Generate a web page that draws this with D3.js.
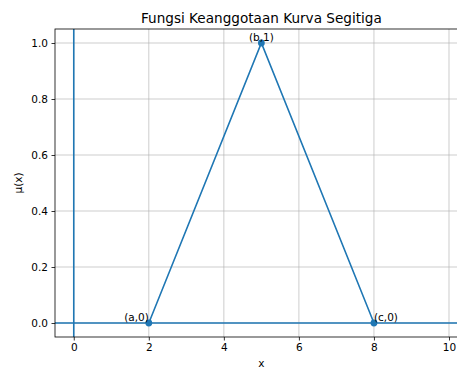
<!DOCTYPE html>
<html>
<head>
<meta charset="utf-8">
<script src="https://cdn.jsdelivr.net/npm/d3@7"></script>
<style>
  html, body { margin: 0; padding: 0; background: #fff; }
  svg { display: block; font-family: "DejaVu Sans", sans-serif; }
</style>
</head>
<body>
<svg id="chart" width="457" height="370"></svg>
<script>
// Triangular membership function: vertices a, b, c
const pointX = [2, 5, 8];
const pointY = [0, 1, 0];
const pointLabels = ["(a,0)", "(b,1)", "(c,0)"];
const labelAnchors = ["end", "middle", "start"];
const xTicks = [0, 2, 4, 6, 8, 10];
const yTicks = [0.0, 0.2, 0.4, 0.6, 0.8, 1.0];
const xDomain = [-0.5, 10.5];
const yDomain = [-0.05, 1.05];

const blue = "#1f77b4";
const svg = d3.select("#chart");
const margin = { left: 55, top: 29, bottom: 33 };
const W = 457, H = 370;
const plotRight = 467.75;
const fs = 10.5;

const x = d3.scaleLinear().domain(xDomain).range([margin.left, plotRight]);
const y = d3.scaleLinear().domain(yDomain).range([H - margin.bottom, margin.top]);

svg.append("rect").attr("width", W).attr("height", H).attr("fill", "#fff");

svg.append("defs").append("clipPath").attr("id", "plotclip")
  .append("rect")
  .attr("x", margin.left).attr("y", margin.top)
  .attr("width", plotRight - margin.left).attr("height", H - margin.bottom - margin.top);

const plot = svg.append("g").attr("clip-path", "url(#plotclip)");

// grid
plot.selectAll(".gx").data(xTicks).join("line")
  .attr("x1", d => x(d)).attr("x2", d => x(d))
  .attr("y1", margin.top).attr("y2", H - margin.bottom)
  .attr("stroke", "#b0b0b0").attr("stroke-width", 0.8).attr("stroke-opacity", 0.8);
plot.selectAll(".gy").data(yTicks).join("line")
  .attr("x1", margin.left).attr("x2", plotRight)
  .attr("y1", d => y(d)).attr("y2", d => y(d))
  .attr("stroke", "#b0b0b0").attr("stroke-width", 0.8).attr("stroke-opacity", 0.8);

// reference axes lines at x=0 and y=0
plot.append("line")
  .attr("x1", margin.left).attr("x2", plotRight)
  .attr("y1", y(0)).attr("y2", y(0))
  .attr("stroke", blue).attr("stroke-width", 1.6);
plot.append("line")
  .attr("x1", x(0)).attr("x2", x(0))
  .attr("y1", margin.top).attr("y2", H - margin.bottom)
  .attr("stroke", blue).attr("stroke-width", 1.6);

// triangle curve
const pts = pointX.map((d, i) => [d, pointY[i]]);
plot.append("path")
  .datum(pts)
  .attr("d", d3.line().x(d => x(d[0])).y(d => y(d[1])))
  .attr("fill", "none").attr("stroke", blue).attr("stroke-width", 1.6);

plot.selectAll(".pt").data(pts).join("circle")
  .attr("cx", d => x(d[0])).attr("cy", d => y(d[1]))
  .attr("r", 3.4).attr("fill", blue);

// point labels
svg.selectAll(".lbl").data(pts).join("text")
  .attr("x", d => x(d[0])).attr("y", d => y(d[1]) - 2.5)
  .attr("text-anchor", (d, i) => labelAnchors[i])
  .attr("font-size", fs).attr("fill", "#000")
  .text((d, i) => pointLabels[i]);

// spines
const spine = svg.append("g").attr("stroke", "#000").attr("stroke-width", 0.8).attr("fill", "none");
spine.append("rect")
  .attr("x", margin.left).attr("y", margin.top)
  .attr("width", plotRight - margin.left).attr("height", H - margin.bottom - margin.top);

// axes
const xAxis = d3.axisBottom(x).tickValues(xTicks).tickFormat(d3.format("d"))
  .tickSizeInner(3.5).tickSizeOuter(0).tickPadding(3.5);
const yAxis = d3.axisLeft(y).tickValues(yTicks).tickFormat(d3.format(".1f"))
  .tickSizeInner(3.5).tickSizeOuter(0).tickPadding(3.5);

const gx = svg.append("g").attr("transform", `translate(0,${H - margin.bottom})`).call(xAxis);
const gy = svg.append("g").attr("transform", `translate(${margin.left},0)`).call(yAxis);
[gx, gy].forEach(g => {
  g.select(".domain").remove();
  g.selectAll(".tick line").attr("stroke", "#000").attr("stroke-width", 0.8);
  g.selectAll(".tick text").attr("font-size", fs).attr("fill", "#000")
    .attr("font-family", "DejaVu Sans, sans-serif");
});

// titles
svg.append("text")
  .attr("x", (margin.left + plotRight) / 2).attr("y", 23)
  .attr("text-anchor", "middle").attr("font-size", 13.6).attr("fill", "#000")
  .text("Fungsi Keanggotaan Kurva Segitiga");
svg.append("text")
  .attr("x", (margin.left + plotRight) / 2).attr("y", 367)
  .attr("text-anchor", "middle").attr("font-size", fs).attr("fill", "#000")
  .text("x");
svg.append("text")
  .attr("transform", `translate(22,${(margin.top + H - margin.bottom) / 2}) rotate(-90)`)
  .attr("text-anchor", "middle").attr("font-size", fs).attr("fill", "#000")
  .text("μ(x)");
</script>
</body>
</html>
